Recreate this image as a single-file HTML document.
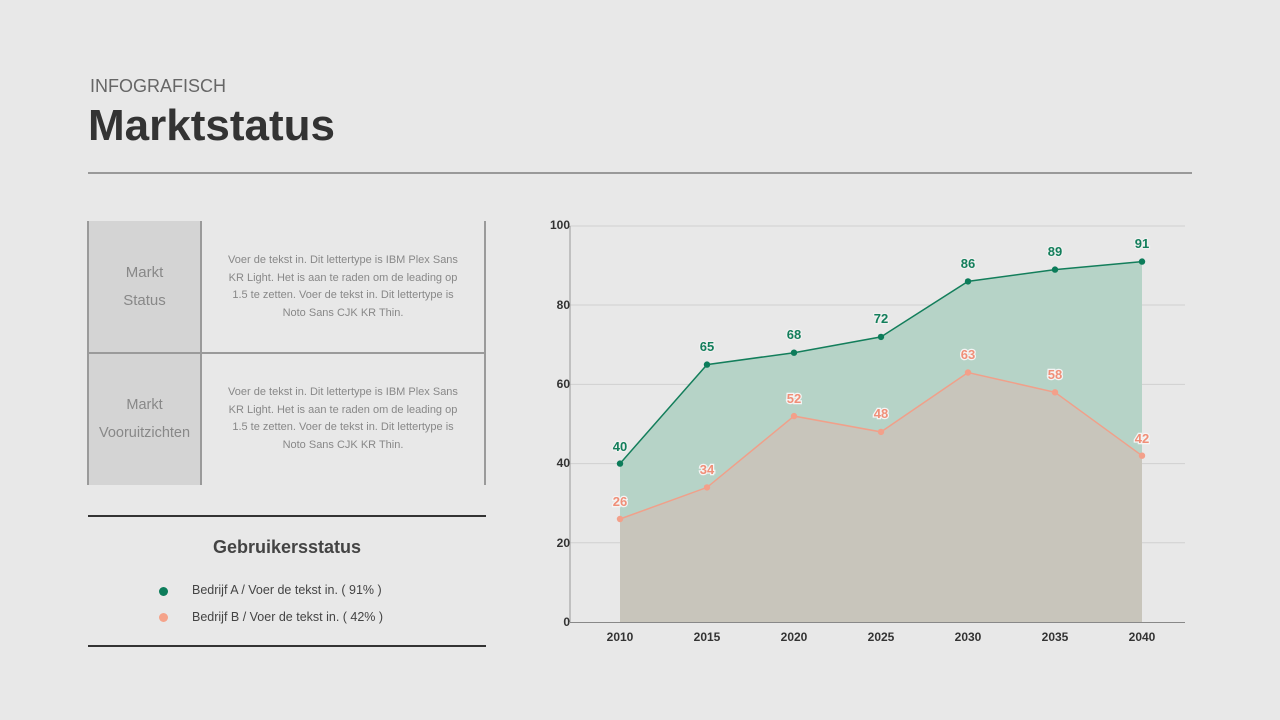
<!DOCTYPE html>
<html><head><meta charset="utf-8"><style>
html,body{margin:0;padding:0;}
body{width:1280px;height:720px;background:#e8e8e8;position:relative;overflow:hidden;font-family:"Liberation Sans",sans-serif;}
.abs{position:absolute;}
.cell{position:absolute;display:flex;align-items:center;justify-content:center;text-align:center;color:#888;}
</style></head><body>
<div class="abs" style="left:90px;top:76px;font-size:18px;color:#666;">INFOGRAFISCH</div>
<div class="abs" style="left:88px;top:101px;font-size:44px;font-weight:bold;color:#333;letter-spacing:0px;">Marktstatus</div>
<div class="abs" style="left:88px;top:172px;width:1104px;height:2px;background:#999;"></div>

<div class="abs" style="left:88px;top:221px;width:113px;height:264px;background:#d4d4d4;"></div>
<div class="abs" style="left:87px;top:221px;width:2px;height:264px;background:#9a9a9a;"></div>
<div class="abs" style="left:200px;top:221px;width:2px;height:264px;background:#9a9a9a;"></div>
<div class="abs" style="left:484px;top:221px;width:2px;height:264px;background:#9a9a9a;"></div>
<div class="abs" style="left:88px;top:352px;width:397px;height:2px;background:#9a9a9a;"></div>
<div class="cell" style="left:88px;top:221px;width:113px;height:132px;font-size:15px;line-height:28px;">Markt<br>Status</div>
<div class="cell" style="left:88px;top:353px;width:113px;height:132px;font-size:14.5px;line-height:28px;">Markt<br>Vooruitzichten</div>
<div class="cell" style="left:220px;top:221px;width:246px;height:132px;font-size:11px;line-height:17.5px;">Voer de tekst in. Dit lettertype is IBM Plex Sans KR Light. Het is aan te raden om de leading op 1.5 te zetten. Voer de tekst in. Dit lettertype is Noto Sans CJK KR Thin.</div>
<div class="cell" style="left:220px;top:353px;width:246px;height:132px;font-size:11px;line-height:17.5px;">Voer de tekst in. Dit lettertype is IBM Plex Sans KR Light. Het is aan te raden om de leading op 1.5 te zetten. Voer de tekst in. Dit lettertype is Noto Sans CJK KR Thin.</div>

<div class="abs" style="left:88px;top:515px;width:398px;height:2px;background:#333;"></div>
<div class="abs" style="left:88px;top:645px;width:398px;height:2px;background:#333;"></div>
<div class="abs" style="left:88px;top:537px;width:398px;text-align:center;font-size:18px;font-weight:bold;color:#444;">Gebruikersstatus</div>
<div class="abs" style="left:159px;top:587px;width:9px;height:9px;border-radius:50%;background:#0c7c5a;"></div>
<div class="abs" style="left:159px;top:613px;width:9px;height:9px;border-radius:50%;background:#f5a38a;"></div>
<div class="abs" style="left:192px;top:583px;font-size:12.5px;color:#444;">Bedrijf A / Voer de tekst in. ( 91% )</div>
<div class="abs" style="left:192px;top:610px;font-size:12.5px;color:#444;">Bedrijf B / Voer de tekst in. ( 42% )</div>

<svg class="abs" style="left:0;top:0" width="1280" height="720" font-family="Liberation Sans, sans-serif">
<g stroke="#d0d0d0" stroke-width="1">
<line x1="570" y1="226" x2="1185" y2="226"/><line x1="570" y1="305" x2="1185" y2="305"/>
<line x1="570" y1="384.4" x2="1185" y2="384.4"/><line x1="570" y1="463.6" x2="1185" y2="463.6"/>
<line x1="570" y1="542.8" x2="1185" y2="542.8"/>
</g>
<line x1="570" y1="226" x2="570" y2="622" stroke="#999"/>
<line x1="570" y1="622.5" x2="1185" y2="622.5" stroke="#888"/>
<polygon points="620,622 620,463.6 707,364.6 794,352.7 881,336.9 968,281.4 1055,269.6 1142,261.6 1142,622" fill="#b6d3c7"/>
<polygon points="620,622 620,519 707,487.4 794,416.1 881,431.9 968,372.5 1055,392.3 1142,455.7 1142,622" fill="#c8c5bb"/>
<polyline points="620,463.6 707,364.6 794,352.7 881,336.9 968,281.4 1055,269.6 1142,261.6" fill="none" stroke="#137e5b" stroke-width="1.5"/>
<polyline points="620,519 707,487.4 794,416.1 881,431.9 968,372.5 1055,392.3 1142,455.7" fill="none" stroke="#f0a08a" stroke-width="1.5"/>
<g fill="#0c7c5a">
<circle cx="620" cy="463.6" r="3.2"/><circle cx="707" cy="364.6" r="3.2"/><circle cx="794" cy="352.7" r="3.2"/><circle cx="881" cy="336.9" r="3.2"/><circle cx="968" cy="281.4" r="3.2"/><circle cx="1055" cy="269.6" r="3.2"/><circle cx="1142" cy="261.6" r="3.2"/>
</g>
<g fill="#f3a08a">
<circle cx="620" cy="519" r="3.2"/><circle cx="707" cy="487.4" r="3.2"/><circle cx="794" cy="416.1" r="3.2"/><circle cx="881" cy="431.9" r="3.2"/><circle cx="968" cy="372.5" r="3.2"/><circle cx="1055" cy="392.3" r="3.2"/><circle cx="1142" cy="455.7" r="3.2"/>
</g>
<g font-size="13" font-weight="bold" fill="#137e5b" text-anchor="middle" stroke="#f0f0f0" stroke-width="2.5" paint-order="stroke">
<text x="620" y="451">40</text><text x="707" y="351">65</text><text x="794" y="339">68</text><text x="881" y="323">72</text><text x="968" y="268">86</text><text x="1055" y="256">89</text><text x="1142" y="248">91</text>
</g>
<g font-size="13" font-weight="bold" fill="#f08f78" text-anchor="middle" stroke="#f4f4f4" stroke-width="2.5" paint-order="stroke">
<text x="620" y="506">26</text><text x="707" y="474">34</text><text x="794" y="403">52</text><text x="881" y="418">48</text><text x="968" y="359">63</text><text x="1055" y="379">58</text><text x="1142" y="443">42</text>
</g>
<g font-size="12" font-weight="bold" fill="#333" text-anchor="end">
<text x="570" y="229">100</text><text x="570" y="309">80</text><text x="570" y="388">60</text><text x="570" y="467">40</text><text x="570" y="547">20</text><text x="570" y="626">0</text>
</g>
<g font-size="12" font-weight="bold" fill="#333" text-anchor="middle">
<text x="620" y="641">2010</text><text x="707" y="641">2015</text><text x="794" y="641">2020</text><text x="881" y="641">2025</text><text x="968" y="641">2030</text><text x="1055" y="641">2035</text><text x="1142" y="641">2040</text>
</g>
</svg>
</body></html>
